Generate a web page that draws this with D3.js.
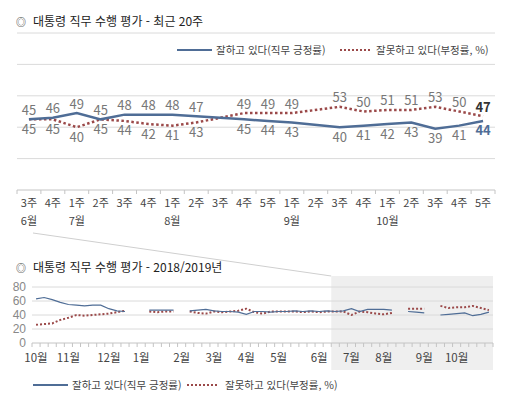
<!DOCTYPE html>
<html lang="ko">
<head>
<meta charset="utf-8">
<script src="https://cdn.jsdelivr.net/npm/d3@7/dist/d3.min.js"></script>
<style>
  * { margin: 0; padding: 0; }
  body { background: #fff; font-family: "Noto Sans CJK KR", "Noto Sans", sans-serif; }
  svg { display: block; }
</style>
</head>
<body>
<svg id="chart" width="518" height="399"></svg>
<script>
// recent 20 weeks (top chart)
const recentWeeks = ['3주','4주','1주','2주','3주','4주','1주','2주','3주','4주','5주','1주','2주','3주','4주','1주','2주','3주','4주','5주']
const recentMonths = ['6월','','7월','','','','8월','','','','','9월','','','','10월','','','','']
const recentPos = [45,46,49,45,48,48,48,47,null,45,44,43,null,40,41,42,43,39,41,44]
const recentNeg = [45,45,40,45,44,42,41,43,null,49,49,49,null,53,50,51,51,53,50,47]

// 2018/2019 weekly (bottom chart)
const yearMonths = ['10월','11월','12월','1월','2월','3월','4월','5월','6월','7월','8월','9월','10월']
const yearWeekCounts = [4,5,4,5,4,4,4,5,4,4,5,4,5]
const yearTicks = [0, 20, 40, 60, 80]
const yearPos = [63,65,62,58,55,54,53,54,54,49,46,45, null,null, 47,47,47,47, null,
  46,47,48,46,45,45,44,41,45,45,44,45,45,46,45,46,45,46,
  45,46,49,45,48,48,48,47,null,45,44,43,null,40,41,42,43,39,41,44]
const yearNeg = [26,27,28,33,36,40,39,40,41,42,44,46, null,null, 45,44,45,45, null,
  45,43,42,45,44,45,46,49,44,42,45,45,45,45,44,45,44,45,
  45,45,40,45,44,42,41,43,null,49,49,49,null,53,50,51,51,53,50,47]

const posLabel = '잘하고 있다(직무 긍정률)'
const negLabel = '잘못하고 있다(부정률, %)'

const BLUE = '#4f6d96'
const RED = '#9b4949'
const GRID = '#dadada'
const AXIS = '#c4c4c4'

const svg = d3.select('#chart')

function title(y, text) {
  svg.append('text').attr('x', 16).attr('y', y).attr('dy', '0.35em')
    .attr('font-size', 10).attr('fill', '#333').text('◎')
  svg.append('text').attr('x', 33).attr('y', y).attr('dy', '0.35em')
    .attr('font-size', 12).attr('fill', '#222').text(text)
}

function legend(y, x1, x2, x3, x4) {
  svg.append('line').attr('x1', x1).attr('x2', x1 + 35).attr('y1', y).attr('y2', y)
    .attr('stroke', BLUE).attr('stroke-width', 2)
  svg.append('text').attr('x', x2).attr('y', y).attr('dy', '0.35em')
    .attr('font-size', 10.5).attr('fill', '#444').text(posLabel)
  svg.append('line').attr('x1', x3).attr('x2', x3 + 32).attr('y1', y).attr('y2', y)
    .attr('stroke', RED).attr('stroke-width', 2).attr('stroke-dasharray', '2,2')
  svg.append('text').attr('x', x4).attr('y', y).attr('dy', '0.35em')
    .attr('font-size', 10.5).attr('fill', '#444').text(negLabel)
}

// ---------- top chart ----------
title(22, '대통령 직무 수행 평가 - 최근 20주')

const x = d3.scaleBand().domain(d3.range(recentWeeks.length)).range([17, 495])
const y = d3.scaleLinear().domain([0, 100]).range([190, 33])
const cx = i => x(i) + x.bandwidth() / 2

svg.append('g').selectAll('line')
  .data([20, 40, 60, 80, 100])
  .join('line')
  .attr('x1', 17).attr('x2', 495)
  .attr('y1', d => y(d)).attr('y2', d => y(d))
  .attr('stroke', GRID)

svg.append('line').attr('x1', 17).attr('x2', 495).attr('y1', y(0)).attr('y2', y(0)).attr('stroke', AXIS)
svg.append('g').selectAll('line')
  .data(d3.range(recentWeeks.length + 1))
  .join('line')
  .attr('x1', i => 17 + i * x.step()).attr('x2', i => 17 + i * x.step())
  .attr('y1', y(0)).attr('y2', y(0) + 4)
  .attr('stroke', AXIS)

svg.append('g').selectAll('text')
  .data(recentWeeks)
  .join('text')
  .attr('x', (d, i) => cx(i)).attr('y', 203).attr('dy', '0.35em')
  .attr('text-anchor', 'middle').attr('font-size', 11).attr('fill', '#444')
  .text(d => d)
svg.append('g').selectAll('text')
  .data(recentMonths)
  .join('text')
  .attr('x', (d, i) => cx(i)).attr('y', 221).attr('dy', '0.35em')
  .attr('text-anchor', 'middle').attr('font-size', 11).attr('fill', '#444')
  .text(d => d)

legend(50, 177, 216, 340, 376)

const topLine = d3.line().x(d => cx(d.i)).y(d => y(d.v))
const pts = arr => arr.map((v, i) => ({ i, v })).filter(d => d.v != null)

svg.append('path').datum(pts(recentNeg)).attr('d', topLine)
  .attr('fill', 'none').attr('stroke', RED).attr('stroke-width', 2.5).attr('stroke-dasharray', '2.5,2.5')
svg.append('path').datum(pts(recentPos)).attr('d', topLine)
  .attr('fill', 'none').attr('stroke', BLUE).attr('stroke-width', 2.5)

const last = recentPos.length - 1
const labels = []
recentPos.forEach((p, i) => {
  const n = recentNeg[i]
  if (p == null) return
  const posUp = p >= n
  labels.push({ i, v: p, up: posUp, kind: 'pos' })
  labels.push({ i, v: n, up: !posUp, kind: 'neg' })
})
svg.append('g').selectAll('text')
  .data(labels)
  .join('text')
  .attr('x', d => cx(d.i)).attr('y', d => d.up ? y(d.v) - 9 : y(d.v) + 10).attr('dy', '0.35em')
  .attr('text-anchor', 'middle').attr('font-size', 13)
  .attr('font-weight', d => d.i === last ? 'bold' : 'normal')
  .attr('fill', d => d.i === last ? (d.kind === 'pos' ? BLUE : '#333') : '#777')
  .text(d => d.v)

// ---------- bottom chart ----------
const weekMonth = []
yearWeekCounts.forEach((c, m) => { for (let k = 0; k < c; k++) weekMonth.push(k === 0 ? yearMonths[m] : '') })

const x2 = d3.scaleBand().domain(d3.range(weekMonth.length)).range([32, 493])
const y2 = d3.scaleLinear().domain([0, 80]).range([343, 287])
const cx2 = i => x2(i) + x2.bandwidth() / 2
const startRecent = weekMonth.length - recentWeeks.length

// connector from top axis to highlighted region
svg.append('line').attr('x1', 33).attr('y1', 233).attr('x2', x2(startRecent)).attr('y2', 276)
  .attr('stroke', '#cfcfcf')

svg.append('rect').attr('x', x2(startRecent)).attr('y', 276)
  .attr('width', 493 - x2(startRecent)).attr('height', 94).attr('fill', '#efefef')

title(268, '대통령 직무 수행 평가 - 2018/2019년')

svg.append('g').selectAll('line')
  .data(yearTicks.slice(1))
  .join('line')
  .attr('x1', 32).attr('x2', 493)
  .attr('y1', d => y2(d)).attr('y2', d => y2(d))
  .attr('stroke', GRID)
svg.append('line').attr('x1', 32).attr('x2', 493).attr('y1', y2(0)).attr('y2', y2(0)).attr('stroke', AXIS)
svg.append('g').selectAll('line')
  .data(d3.range(weekMonth.length + 1))
  .join('line')
  .attr('x1', i => 32 + i * x2.step()).attr('x2', i => 32 + i * x2.step())
  .attr('y1', y2(0)).attr('y2', y2(0) + 4)
  .attr('stroke', AXIS)

svg.append('g').selectAll('text')
  .data(yearTicks)
  .join('text')
  .attr('x', 26).attr('y', d => y2(d)).attr('dy', '0.35em')
  .attr('text-anchor', 'end').attr('font-size', 12).attr('fill', '#888')
  .attr('font-family', '"Liberation Sans", sans-serif')
  .text(d => d)

svg.append('g').selectAll('text')
  .data(weekMonth.map((m, i) => ({ m, i })).filter(d => d.m))
  .join('text')
  .attr('x', d => cx2(d.i)).attr('y', 358).attr('dy', '0.35em')
  .attr('text-anchor', 'middle').attr('font-size', 11.5).attr('fill', '#444')
  .text(d => d.m)

const yearLine = d3.line().defined(d => d != null).x((d, i) => cx2(i)).y(d => y2(d))
svg.append('path').datum(yearNeg).attr('d', yearLine)
  .attr('fill', 'none').attr('stroke', RED).attr('stroke-width', 2).attr('stroke-dasharray', '2,2')
svg.append('path').datum(yearPos).attr('d', yearLine)
  .attr('fill', 'none').attr('stroke', BLUE).attr('stroke-width', 1.2)

legend(385, 33, 72, 187, 225)
</script>
</body>
</html>
